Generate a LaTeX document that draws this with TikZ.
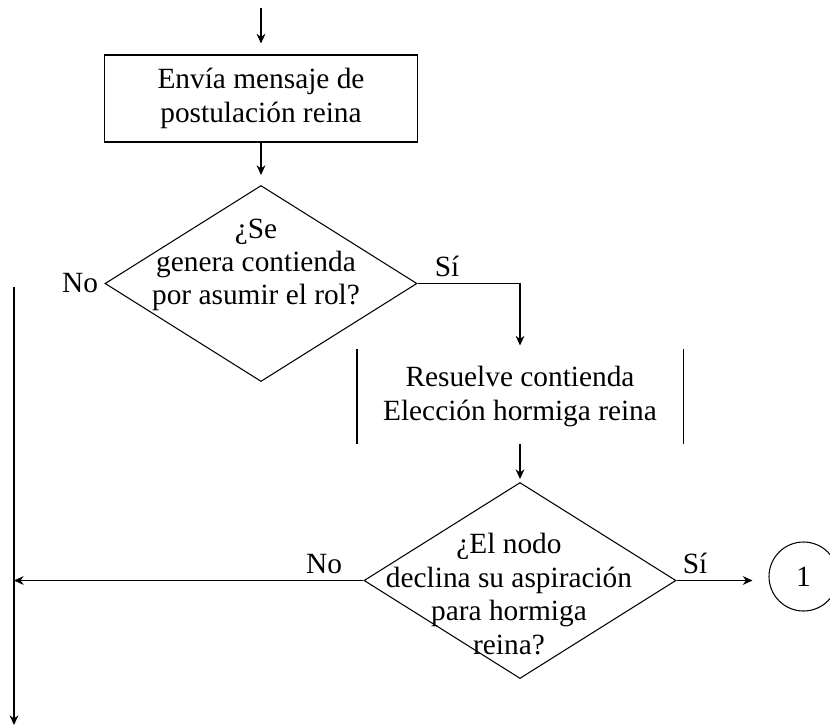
\documentclass[tikz,border=0pt]{standalone}
\usepackage{fontspec}
\setmainfont{Liberation Serif}
\usetikzlibrary{shapes.geometric,arrows.meta}
\newcommand\flowfont{\fontsize{16.7}{19}\selectfont}

\begin{document}
\begin{tikzpicture}[box/.style={rectangle, draw, align=center,
    minimum width=6.26cm, minimum height=1.74cm, inner sep=0pt},
  sides/.style={rectangle, align=center, minimum width=6.5cm,
    minimum height=1.86cm, inner sep=0pt},
  ask/.style={diamond, draw, minimum width=6.24cm, minimum height=3.92cm,
    inner sep=0pt},
  conn/.style={circle, draw, minimum size=1.38cm, inner sep=0pt},
  every node/.style={font=\flowfont}, line width=0.6pt,
  >={Stealth[length=5.5pt,width=5pt]}]

  \path[use as bounding box, clip] (0,0) rectangle (16.6,-14.54);

  \coordinate (start) at (5.22,-0.16);
  \node[box] (A) at (5.22,-1.97) {Envía mensaje de\\postulación reina};
  \node[ask, label={[align=center, xshift=-0.1cm, yshift=0.37cm]center:%
    ¿Se\\genera contienda\\por asumir el rol?}] (B) at (5.22,-5.67) {};
  \node[sides] (C) at (10.4,-7.93) {Resuelve contienda\\Elección hormiga reina};
  \node[ask, label={[align=center, xshift=-0.22cm, yshift=-0.27cm]center:%
    ¿El nodo\\declina su aspiración\\para hormiga\\reina?}] (D) at (10.4,-11.61) {};
  \node[conn] (E) at (16.07,-11.53) {1};
  \coordinate (notop) at (0.28,-5.74);
  \coordinate (nobot) at (0.28,-14.5);

  \node[anchor=east] (noB) at (B.west) {No};
  \node[anchor=south west, xshift=0.22cm] (siB) at (B.east) {Sí};
  \node[anchor=south east, xshift=-0.3cm] (noD) at (D.west) {No};
  \node[anchor=south west] (siD) at (D.east) {Sí};

  \draw[->, shorten >=0.22cm] (start) -- (A);
  \draw[->, shorten >=0.2cm] (A) -- (B);
  \draw[->, shorten >=0.08cm] (B.east) -| (C.north);
  \draw (C.north west) -- (C.south west);
  \draw (C.north east) -- (C.south east);
  \draw[->, shorten >=0.06cm] (C) -- (D);
  \draw[->] (D.west) -- (D.west -| notop);
  \draw[->, shorten >=0.32cm] (D.east) -- (D.east -| E.west);
  \draw[->] (notop) -- (nobot);
\end{tikzpicture}
\end{document}
